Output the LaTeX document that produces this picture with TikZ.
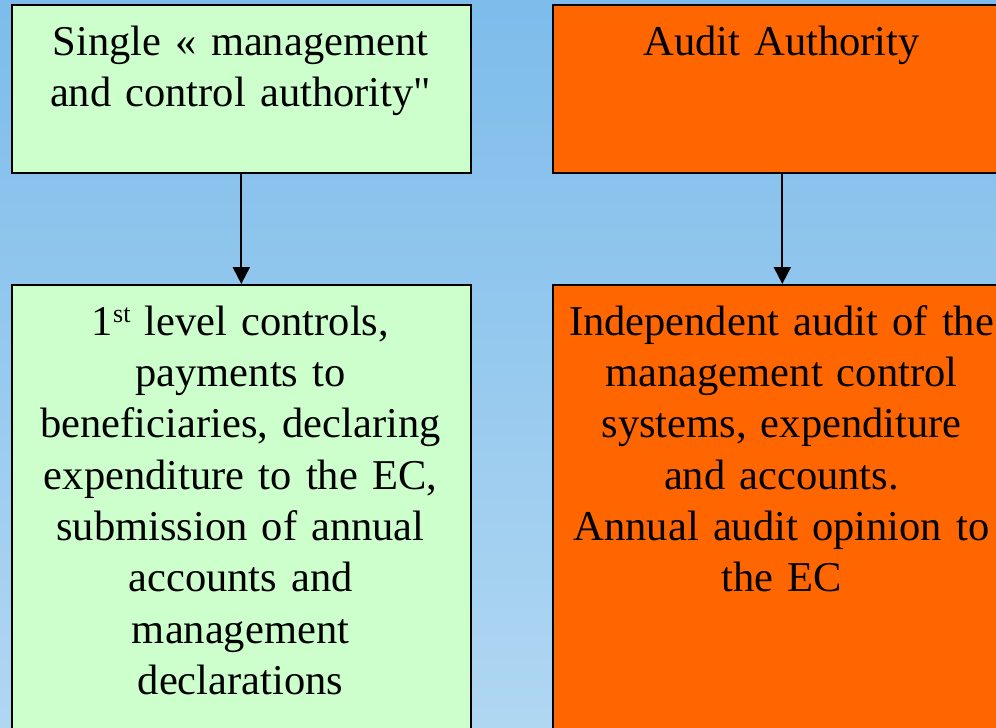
\documentclass[tikz,border=0pt]{standalone}
\usepackage{fontspec}
\setmainfont{Liberation Serif}[Ligatures=TeXOff]
\usetikzlibrary{arrows.meta}
\definecolor{skytop}{RGB}{125,188,235}
\definecolor{skybottom}{RGB}{176,215,242}
\definecolor{mintfill}{RGB}{204,255,204}
\definecolor{orangefill}{RGB}{255,102,0}
\newcommand{\ordsup}[1]{\raisebox{13pt}{\fontsize{26pt}{26pt}\selectfont #1}}
\tikzset{
  panel/.style={draw=black, line width=1.6pt, inner sep=0pt,
    minimum width=459pt, anchor=north west},
  label/.style={anchor=north, inner sep=0pt, text width=440pt, align=center,
    font=\fontsize{42.5pt}{51.3pt}\selectfont},
  flow/.style={draw=black, line width=2pt,
    -{Triangle[width=17pt,length=17pt]}}
}
\begin{document}
\begin{tikzpicture}[x=1pt,y=-1pt]
\useasboundingbox (0,0) rectangle (996,728);
\clip (0,0) rectangle (996,728);
% sky-blue backdrop
\shade[top color=skytop, bottom color=skybottom] (0,0) rectangle (996,728);

% authorities
\node[panel, fill=mintfill, minimum height=168pt] (mca) at (11,4) {};
\node[panel, fill=orangefill, minimum height=168pt] (aa) at (552,4) {};
% tasks
\node[panel, fill=mintfill, minimum height=520pt] (tasks) at (11,284) {};
\node[panel, fill=orangefill, minimum height=520pt] (audit) at (552,284) {};

% texts (first baseline = top + 0.7 baselineskip)
\node[label] (mcatext) at (240.5,19.1) {\strut Single « management\\and control authority"};
\node[label] (aatext) at (781.5,19.1) {\strut Audit Authority};
\node[label] (taskstext) at (240.5,299.1) {\strut 1\ordsup{st} level controls,\\payments to\\beneficiaries, declaring\\expenditure to the EC,\\submission of annual\\accounts and\\management\\declarations};
\node[label] (audittext) at (781.5,299.1) {\strut Independent audit of the\\management control\\systems, expenditure\\and accounts.\\Annual audit opinion to\\the EC};

% connectors
\draw[flow] (mca.south) -- (tasks.north);
\draw[flow] (aa.south) -- (audit.north);
\end{tikzpicture}
\end{document}
